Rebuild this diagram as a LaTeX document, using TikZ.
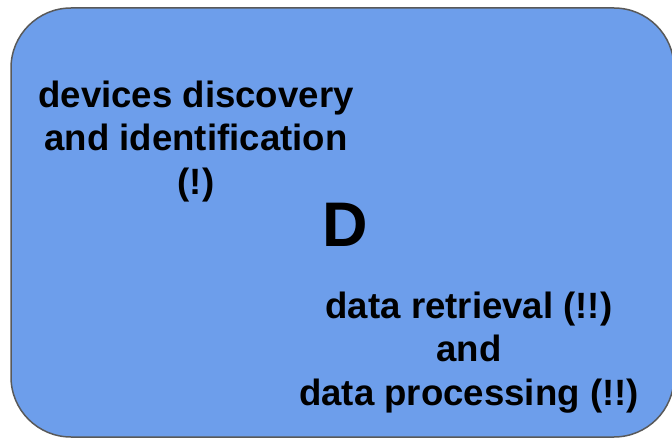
\documentclass[tikz,border=0pt]{standalone}
\usepackage{fontspec}
\setmainfont{Liberation Sans}
\definecolor{panelblue}{HTML}{6D9EEB}
\definecolor{panelline}{HTML}{595959}
\tikzset{
  panel/.style={fill=panelblue, draw=panelline, line width=1.5pt, rounded corners=60pt},
  label/.style={inner sep=0pt, align=center, text=black,
    font=\bfseries\fontsize{36.6}{43.5}\selectfont},
  bigletter/.style={inner sep=0pt, text=black,
    font=\bfseries\fontsize{63}{70}\selectfont}
}
\begin{document}
\begin{tikzpicture}[x=1pt, y=-1pt]
  \useasboundingbox (0,0) rectangle (672,438);
  \clip (0,0) rectangle (672,438);
  % background panel
  \path[panel] (11,8) rectangle (674,437);
  % labels
  \node[label] (discovery) at (196,141.5) {devices discovery\\and identification\\(!)};
  \node[bigletter] (letter) at (345,224.5) {D};
  \node[label] (retrieval) at (469,352.5) {data retrieval (!!)\\and\\data processing (!!)};
\end{tikzpicture}
\end{document}
